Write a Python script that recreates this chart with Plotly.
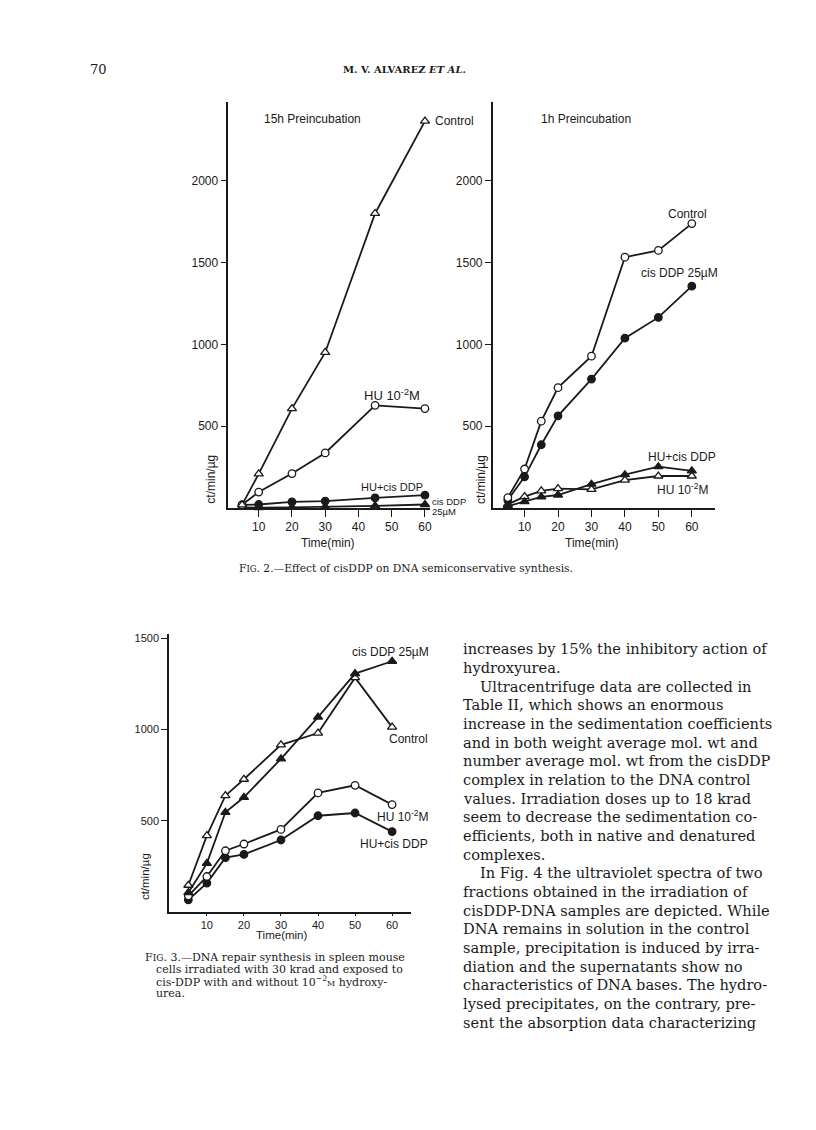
import plotly.graph_objects as go

# page is photographed at 816x1130; the default HTML body has an 8px margin
OFF = 8
W, H = 816 - 2 * OFF, 1130 - 2 * OFF

# ---------------- data ----------------
# Fig 2, left panel: 15h preincubation
t15_ctrl = [5, 10, 20, 30, 45, 60]
v15_ctrl = [20, 209, 608, 951, 1800, 2364]
t15_hu = [5, 10, 20, 30, 45, 60]
v15_hu = [20, 98, 211, 337, 628, 608]
t15_hucis = [5, 10, 20, 30, 45, 60]
v15_hucis = [20, 22, 38, 43, 63, 79]
t15_cis = [5, 10, 20, 30, 45, 60]
v15_cis = [5, 3, 5, 8, 14, 22]

# Fig 2, right panel: 1h preincubation
t1 = [5, 10, 15, 20, 30, 40, 50, 60]
v1_ctrl = [64, 239, 531, 736, 928, 1533, 1574, 1738]
v1_cis = [49, 191, 387, 564, 788, 1038, 1165, 1356]
v1_hucis = [12, 39, 68, 80, 146, 204, 253, 228]
v1_hu = [23, 70, 105, 119, 115, 171, 196, 196]

# Fig 3: DNA repair synthesis
t3 = [5, 10, 15, 20, 30, 40, 50, 60]
v3_ctrl = [146, 418, 637, 727, 916, 980, 1284, 1013]
v3_cis = [106, 266, 546, 628, 839, 1068, 1306, 1374]
v3_hu = [88, 194, 335, 372, 452, 652, 694, 588]
v3_hucis = [66, 158, 297, 315, 394, 527, 542, 440]

xticks = [10, 20, 30, 40, 50, 60]
yticks2 = [500, 1000, 1500, 2000]
yticks3 = [500, 1000, 1500]

SANS = "Liberation Sans, Arial, sans-serif"
SERIF = "DejaVu Serif, serif"
INK = "#1a1a1a"


def px(x):
    return (x - OFF) / W


def py(y):
    return 1 - (y - OFF) / H


fig = go.Figure()


def add_series(t, v, sym, xa, ya):
    is_open = sym.endswith("-open")
    base = sym.replace("-open", "")
    fig.add_trace(go.Scatter(
        x=t, y=v, mode="lines+markers", xaxis=xa, yaxis=ya,
        line=dict(color=INK, width=1.8),
        marker=dict(symbol=base, size=7.5 if base == "circle" else 8,
                    color="white" if is_open else INK,
                    line=dict(color=INK, width=1.3)),
        cliponaxis=False, showlegend=False, hoverinfo="x+y"))


# panel 1
add_series(t15_cis, v15_cis, "triangle-up", "x", "y")
add_series(t15_hucis, v15_hucis, "circle", "x", "y")
add_series(t15_hu, v15_hu, "circle-open", "x", "y")
add_series(t15_ctrl, v15_ctrl, "triangle-up-open", "x", "y")
# panel 2
add_series(t1, v1_hu, "triangle-up-open", "x2", "y2")
add_series(t1, v1_hucis, "triangle-up", "x2", "y2")
add_series(t1, v1_cis, "circle", "x2", "y2")
add_series(t1, v1_ctrl, "circle-open", "x2", "y2")
# panel 3
add_series(t3, v3_hucis, "circle", "x3", "y3")
add_series(t3, v3_hu, "circle-open", "x3", "y3")
add_series(t3, v3_ctrl, "triangle-up-open", "x3", "y3")
add_series(t3, v3_cis, "triangle-up", "x3", "y3")

axcommon = dict(showgrid=False, zeroline=False, showline=True, linecolor=INK,
                linewidth=1.7, ticks="outside", tickcolor=INK, tickwidth=1.4,
                fixedrange=True)
f12 = dict(family=SANS, size=12, color=INK)
f11 = dict(family=SANS, size=11, color=INK)

fig.update_layout(
    width=W, height=H, autosize=False,
    margin=dict(l=0, r=0, t=0, b=0),
    paper_bgcolor="white", plot_bgcolor="white",
    xaxis=dict(domain=[px(229), px(431)], range=[0.9, 61.5], anchor="y",
               tickvals=xticks, ticklen=7, tickfont=f12, **axcommon),
    yaxis=dict(domain=[py(507), py(100)], range=[0, 2482], anchor="x",
               tickvals=yticks2, ticklen=6, tickfont=f12, **axcommon),
    xaxis2=dict(domain=[px(494), px(717)], range=[0.5, 67], anchor="y2",
                tickvals=xticks, ticklen=7, tickfont=f12, **axcommon),
    yaxis2=dict(domain=[py(507), py(100)], range=[0, 2482], anchor="x2",
                tickvals=yticks2, ticklen=6, tickfont=f12, **axcommon),
    xaxis3=dict(domain=[px(169.5), px(412)], range=[-0.2, 65.1], anchor="y3",
                tickvals=xticks, ticklen=2, tickfont=f11, **axcommon),
    yaxis3=dict(domain=[py(911.5), py(633)], range=[0, 1524], anchor="x3",
                tickvals=yticks3, ticklen=6, tickfont=f11, **axcommon),
)

ann = []


def text(x, y, s, size=12, family=SANS, xanchor="left", angle=0, yanchor="middle"):
    ann.append(dict(x=px(x), y=py(y), xref="paper", yref="paper", text=s,
                    showarrow=False, xanchor=xanchor, yanchor=yanchor,
                    textangle=angle, font=dict(family=family, size=size, color=INK)))


# axis titles
text(329, 542, "Time(min)", 12, xanchor="center")
text(593, 542, "Time(min)", 12, xanchor="center")
text(282, 935, "Time(min)", 11.5, xanchor="center")
text(212, 478, "ct/min/µg", 12, xanchor="center", angle=-90)
text(482, 478, "ct/min/µg", 12, xanchor="center", angle=-90)
text(146, 876, "ct/min/µg", 11.5, xanchor="center", angle=-90)

# panel titles
text(263, 117, "15h Preincubation", 12)
text(540, 117, "1h Preincubation", 12)

# panel 1 labels
text(434, 119, "Control", 12)
text(393, 394, "HU 10<sup>-2</sup>M", 13, xanchor="center")
text(360, 486, "HU+cis DDP", 11)
text(431, 500.5, "cis DDP", 9.5)
text(431, 510.5, "25µM", 9.5)

# panel 2 labels
text(711, 212, "Control", 12, xanchor="right")
text(722, 271, "cis DDP 25µM", 12, xanchor="right")
text(720, 456, "HU+cis DDP", 12, xanchor="right")
text(712, 488, "HU 10<sup>-2</sup>M", 12, xanchor="right")

# panel 3 labels
text(432, 651, "cis DDP 25µM", 12, xanchor="right")
text(431, 738, "Control", 12, xanchor="right")
text(431, 815, "HU 10<sup>-2</sup>M", 12, xanchor="right")
text(431, 843, "HU+cis DDP", 12, xanchor="right")

# page header
text(88, 68, "70", 13, family=SERIF)
text(405, 68, "<b>M. V. ALVAREZ <i>ET AL.</i></b>", 10, family=SERIF, xanchor="center")

# captions
text(407, 568, "F<span style='font-size:8.5px'>IG</span>. 2.—Effect of cisDDP on DNA semiconservative synthesis.",
     10.7, family=SERIF, xanchor="center")
cap3 = [
    (143, 957, "F<span style='font-size:9px'>IG</span>. 3.—DNA repair synthesis in spleen mouse"),
    (154, 969, "cells irradiated with 30 krad and exposed to"),
    (154, 981, "cis-DDP with and without 10<sup>−2</sup><span style='font-size:8px'>M</span> hydroxy-"),
    (154, 993, "urea."),
]
for x, y, s in cap3:
    text(x, y, s, 11, family=SERIF)

body = [
    "increases by 15% the inhibitory action of",
    "hydroxyurea.",
    "   Ultracentrifuge data are collected in",
    "Table II, which shows an enormous",
    "increase in the sedimentation coefficients",
    "and in both weight average mol. wt and",
    "number average mol. wt from the cisDDP",
    "complex in relation to the DNA control",
    "values. Irradiation doses up to 18 krad",
    "seem to decrease the sedimentation co-",
    "efficients, both in native and denatured",
    "complexes.",
    "   In Fig. 4 the ultraviolet spectra of two",
    "fractions obtained in the irradiation of",
    "cisDDP-DNA samples are depicted. While",
    "DNA remains in solution in the control",
    "sample, precipitation is induced by irra-",
    "diation and the supernatants show no",
    "characteristics of DNA bases. The hydro-",
    "lysed precipitates, on the contrary, pre-",
    "sent the absorption data characterizing",
]
for i, line in enumerate(body):
    x0 = 462
    s = line
    if line.startswith("   "):
        x0 = 479
        s = line.strip()
    text(x0, 648 + i * 18.7, s, 14.6, family=SERIF)

fig.update_layout(annotations=ann)
fig.write_html("out.html")
